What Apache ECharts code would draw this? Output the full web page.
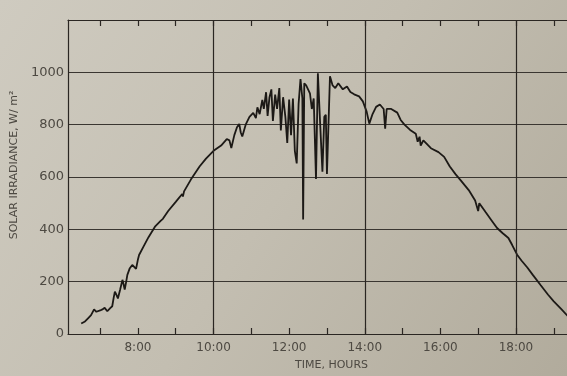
<!DOCTYPE html>
<html>
<head>
<meta charset="utf-8">
<script src="https://cdn.jsdelivr.net/npm/echarts@6/dist/echarts.min.js"></script>
<style>
html,body{margin:0;padding:0;background:#c2bdb0;}
#chart{width:567px;height:376px;}
</style>
</head>
<body>
<div id="chart"></div>
<script>
// Time of day (hours) and solar irradiance (W/m^2)
const hours = [6.50,6.60,6.68,6.76,6.84,6.90,6.94,7.00,7.06,7.12,7.19,7.26,7.32,7.36,7.39,7.43,7.47,7.53,7.59,7.62,7.65,7.69,7.72,7.78,7.85,7.90,7.95,8.00,8.03,8.15,8.28,8.45,8.60,8.63,8.66,8.80,9.00,9.17,9.19,9.22,9.40,9.63,9.80,10.00,10.20,10.35,10.42,10.47,10.55,10.62,10.68,10.72,10.76,10.85,10.95,11.05,11.12,11.16,11.22,11.29,11.33,11.39,11.43,11.48,11.53,11.57,11.63,11.68,11.74,11.78,11.84,11.90,11.95,12.00,12.05,12.10,12.15,12.20,12.25,12.30,12.35,12.37,12.40,12.45,12.50,12.55,12.60,12.65,12.71,12.76,12.82,12.88,12.93,12.97,13.00,13.08,13.15,13.22,13.30,13.42,13.53,13.62,13.72,13.85,13.95,14.05,14.12,14.20,14.30,14.40,14.50,14.54,14.58,14.70,14.86,14.95,15.05,15.20,15.35,15.40,15.45,15.48,15.55,15.75,15.95,16.10,16.25,16.40,16.55,16.75,16.92,17.00,17.03,17.20,17.35,17.50,17.65,17.80,17.90,18.03,18.15,18.30,18.45,18.65,18.85,19.00,19.20,19.38,19.45];
const irradiance = [40,48,60,72,94,85,79,90,94,100,87,98,106,140,162,150,136,170,207,190,170,200,226,250,264,258,249,285,302,335,370,410,432,425,440,470,505,535,525,545,590,640,670,700,720,745,740,711,760,790,803,770,755,800,830,845,825,866,840,895,860,924,833,905,935,814,915,860,940,778,905,830,730,896,760,900,700,652,880,974,900,438,958,950,935,920,860,900,592,996,804,620,830,838,612,985,950,940,958,935,946,925,916,908,889,850,804,838,868,877,860,785,860,860,846,818,800,780,765,735,754,720,740,710,695,677,640,611,585,550,510,470,500,465,435,405,385,367,340,303,280,254,225,187,150,125,95,67,52];

const xMin = 6.15, xMax = 19.35;
const hourTicks = [7,8,9,10,11,12,13,14,15,16,17,18,19];
const hourLabels = [8,10,12,14,16,18];
const majorHours = [10,14,18];
const yTicks = [0,200,400,600,800,1000];

const chart = echarts.init(document.getElementById('chart'));
const ink = '#2a2622';
const textCol = '#4d4942';
const option = {
  animation: false,
  backgroundColor: {
    type: 'linear', x: 0, y: 0, x2: 1, y2: 1,
    colorStops: [
      {offset: 0, color: '#cfcbc0'},
      {offset: 0.5, color: '#c3beb1'},
      {offset: 1, color: '#b1ab9c'}
    ]
  },
  grid: {left: 68, right: 0, top: 20, bottom: 36},
  xAxis: [{
    type: 'value', min: xMin, max: xMax, position: 'bottom',
    axisLine: {show: true, lineStyle: {color: ink, width: 1.2}},
    axisTick: {show: true, inside: true, length: 6, customValues: hourTicks, lineStyle: {color: ink, width: 1.2}},
    axisLabel: {customValues: hourLabels, formatter: v => v + ':00', color: textCol,
      fontFamily: 'DejaVu Sans', fontSize: 12, margin: 8},
    splitLine: {show: false},
    name: 'TIME, HOURS', nameLocation: 'middle', nameGap: 26,
    nameTextStyle: {color: textCol, fontFamily: 'DejaVu Sans', fontSize: 11, padding: [0, 0, 0, 28]}
  }, {
    type: 'value', min: xMin, max: xMax, position: 'top',
    axisLine: {show: true, lineStyle: {color: ink, width: 1.2}},
    axisTick: {show: true, inside: true, length: 6, customValues: hourTicks, lineStyle: {color: ink, width: 1.2}},
    axisLabel: {show: false},
    splitLine: {show: false}
  }],
  yAxis: {
    type: 'value', min: 0, max: 1200, interval: 200,
    axisLine: {show: true, lineStyle: {color: ink, width: 1.2}},
    axisTick: {show: false},
    axisLabel: {color: textCol, fontFamily: 'DejaVu Sans', fontSize: 13, margin: 4,
      formatter: v => yTicks.indexOf(v) >= 0 ? String(v) : ''},
    splitLine: {show: true, lineStyle: {color: '#3a3631', width: 1}},
    name: 'SOLAR IRRADIANCE, W/ m\u00B2', nameLocation: 'middle', nameGap: 40, nameRotate: 90,
    nameTextStyle: {color: textCol, fontFamily: 'DejaVu Sans', fontSize: 11, padding: [0, 0, 0, 24]}
  },
  series: [{
    type: 'line',
    xAxisIndex: 0,
    data: hours.map((h, i) => [h, irradiance[i]]),
    showSymbol: false,
    symbol: 'none',
    lineStyle: {color: '#1c1916', width: 1.8},
    markLine: {
      silent: true, symbol: 'none', label: {show: false},
      lineStyle: {color: ink, type: 'solid', width: 1.2},
      data: majorHours.map(h => ({xAxis: h}))
    }
  }]
};
chart.setOption(option);
</script>
</body>
</html>
